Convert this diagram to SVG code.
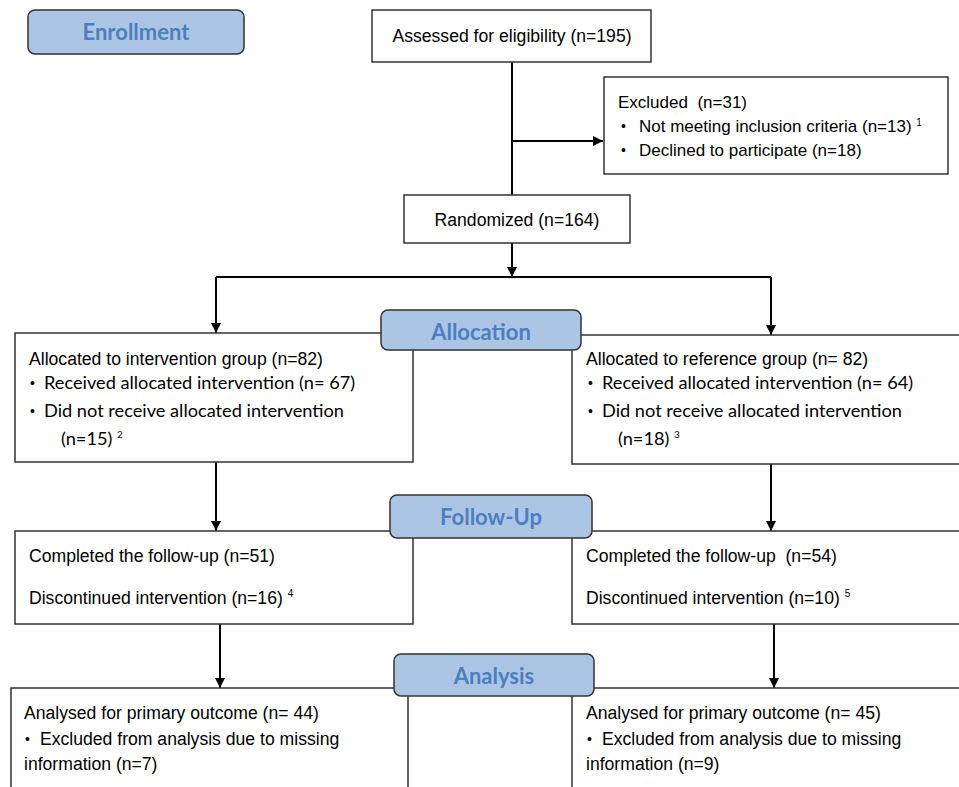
<svg xmlns="http://www.w3.org/2000/svg" width="959" height="787" viewBox="0 0 959 787">
<defs>
<marker id="ah" viewBox="0 0 10 10" refX="10" refY="5" markerWidth="12" markerHeight="10" markerUnits="userSpaceOnUse" orient="auto"><path d="M0,0 L10,5 L0,10 z" fill="#000"/></marker>
<style>
.box{fill:#fff;stroke:#333;stroke-width:1.5}
.lab{fill:#adc5e4;stroke:#333;stroke-width:1.5}
.lt{font-family:Lato,"Open Sans",sans-serif;font-weight:bold;font-size:22px;fill:#4b7fbf;text-anchor:middle}
.a{font-family:"Liberation Sans",Arial,sans-serif;font-size:17.6px;fill:#000}
.x{font-family:"Liberation Sans",Arial,sans-serif;font-size:17px;fill:#000}
.c{font-family:Lato,"Liberation Sans",sans-serif;font-size:18.2px;fill:#000}
.b{font-family:"Liberation Sans",Arial,sans-serif;font-size:14px;fill:#000}
.s{font-size:10px}
.con{stroke:#000;stroke-width:2;fill:none}
</style>
</defs>
<rect width="959" height="787" fill="#fff"/>

<g id="connectors">
<line class="con" x1="512" y1="62" x2="512" y2="195"/>
<line class="con" x1="512" y1="141" x2="603" y2="141" marker-end="url(#ah)"/>
<line class="con" x1="512" y1="243" x2="512" y2="277" marker-end="url(#ah)"/>
<polyline class="con" points="216,277 771,277"/>
<line class="con" x1="216" y1="277" x2="216" y2="333" marker-end="url(#ah)"/>
<line class="con" x1="771" y1="277" x2="771" y2="335" marker-end="url(#ah)"/>
<line class="con" x1="216" y1="462" x2="216" y2="531" marker-end="url(#ah)"/>
<line class="con" x1="771" y1="464" x2="771" y2="531" marker-end="url(#ah)"/>
<line class="con" x1="220" y1="624" x2="220" y2="688" marker-end="url(#ah)"/>
<line class="con" x1="774" y1="624" x2="774" y2="688" marker-end="url(#ah)"/>
</g>

<g id="assessed">
<rect class="box" x="372" y="10" width="279" height="52"/>
<text class="a" x="512" y="42" text-anchor="middle">Assessed for eligibility (n=195)</text>
</g>

<g id="excluded">
<rect class="box" x="604" y="77" width="344" height="97"/>
<text class="x" x="618" y="108" xml:space="preserve">Excluded  (n=31)</text>
<text class="b" x="621" y="131">•</text>
<text class="x" x="639" y="132">Not meeting inclusion criteria (n=13) <tspan class="s" dy="-6">1</tspan></text>
<text class="b" x="621" y="155">•</text>
<text class="x" x="639" y="156">Declined to participate (n=18)</text>
</g>

<g id="randomized">
<rect class="box" x="404" y="195" width="226" height="48"/>
<text class="a" x="517" y="226" text-anchor="middle">Randomized (n=164)</text>
</g>

<g id="alloc-int">
<rect class="box" x="15" y="333" width="398" height="129"/>
<text class="a" x="29" y="365">Allocated to intervention group (n=82)</text>
<text class="b" x="30" y="388">•</text>
<text class="c" x="44" y="389">Received allocated intervention (n= 67)</text>
<text class="b" x="30" y="416">•</text>
<text class="c" x="44" y="417">Did not receive allocated intervention</text>
<text class="c" x="61" y="445">(n=15) <tspan class="s" dy="-7">2</tspan></text>
</g>

<g id="alloc-ref">
<rect class="box" x="572" y="335" width="400" height="129"/>
<text class="a" x="586" y="365">Allocated to reference group (n= 82)</text>
<text class="b" x="588" y="388">•</text>
<text class="c" x="602" y="389">Received allocated intervention (n= 64)</text>
<text class="b" x="588" y="416">•</text>
<text class="c" x="602" y="417">Did not receive allocated intervention</text>
<text class="c" x="618" y="445">(n=18) <tspan class="s" dy="-7">3</tspan></text>
</g>

<g id="fu-int">
<rect class="box" x="15" y="531" width="398" height="93"/>
<text class="a" x="29" y="562">Completed the follow-up (n=51)</text>
<text class="a" x="29" y="604">Discontinued intervention (n=16) <tspan class="s" dy="-7">4</tspan></text>
</g>

<g id="fu-ref">
<rect class="box" x="572" y="531" width="400" height="93"/>
<text class="a" x="586" y="562" xml:space="preserve">Completed the follow-up  (n=54)</text>
<text class="a" x="586" y="604">Discontinued intervention (n=10) <tspan class="s" dy="-7">5</tspan></text>
</g>

<g id="an-int">
<rect class="box" x="11" y="688" width="397" height="120"/>
<text class="a" x="24" y="719">Analysed for primary outcome (n= 44)</text>
<text class="b" x="25" y="744">•</text>
<text class="a" x="40" y="745">Excluded from analysis due to missing</text>
<text class="a" x="24" y="770">information (n=7)</text>
</g>

<g id="an-ref">
<rect class="box" x="572" y="688" width="400" height="120"/>
<text class="a" x="586" y="719">Analysed for primary outcome (n= 45)</text>
<text class="b" x="587" y="744">•</text>
<text class="a" x="602" y="745">Excluded from analysis due to missing</text>
<text class="a" x="586" y="770">information (n=9)</text>
</g>

<g id="enrollment">
<rect class="lab" x="28" y="10" width="216" height="44" rx="7"/>
<text class="lt" x="136" y="40">Enrollment</text>
</g>

<g id="allocation">
<rect class="lab" x="381" y="310" width="200" height="40" rx="7"/>
<text class="lt" x="481" y="340">Allocation</text>
</g>

<g id="followup">
<rect class="lab" x="390" y="495" width="202" height="43" rx="7"/>
<text class="lt" x="491" y="525">Follow-Up</text>
</g>

<g id="analysis">
<rect class="lab" x="394" y="654" width="200" height="42" rx="7"/>
<text class="lt" x="494" y="684">Analysis</text>
</g>
</svg>
